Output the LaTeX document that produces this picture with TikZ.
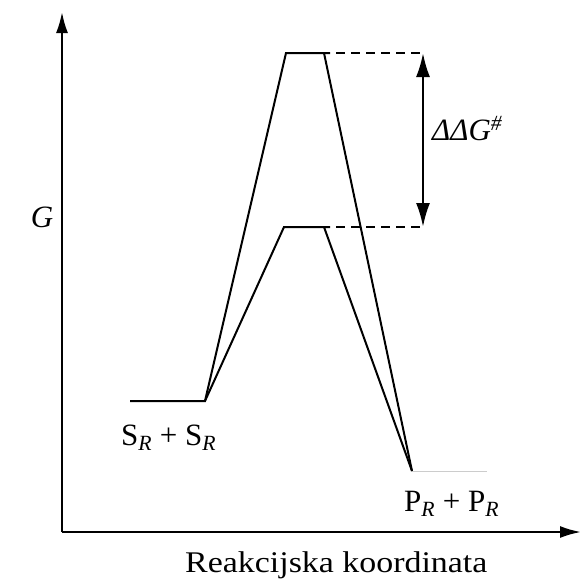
\documentclass[tikz,border=0pt]{standalone}
\usepackage{fontspec}
\setmainfont{Liberation Serif}
\usetikzlibrary{arrows.meta}
\begin{document}
\begin{tikzpicture}[x=1pt,y=-1pt,
  lbl/.style={font=\fontsize{31}{36}\selectfont, inner sep=0pt},
  axis/.style={line width=2.2pt, -{Latex[length=21pt,width=12pt]}},
  path/.style={line width=2pt, line join=miter},
  guide/.style={line width=2pt, dash pattern=on 9pt off 6pt, dash phase=9pt},
  dbl/.style={line width=2.4pt, {Latex[length=24pt,width=14pt]}-{Latex[length=24pt,width=14pt]}}]
\useasboundingbox (0,0) rectangle (581,581);
% coordinates
\coordinate (O) at (62,532);
\coordinate (Ytip) at (62,12);
\coordinate (Xtip) at (581,532);
\coordinate (A) at (130,401);
\coordinate (B) at (205,401);
\coordinate (L1) at (284,227);
\coordinate (L2) at (330,227);
\coordinate (L2s) at (324,227);
\coordinate (U1) at (286,53);
\coordinate (U2) at (330,53);
\coordinate (U2s) at (324,53);
\coordinate (P) at (412,471);
\coordinate (Pend) at (487,471);
\coordinate (D1) at (423,53);
\coordinate (D2) at (423,227);
% axes
\draw[axis] (O) -- (Ytip);
\draw[axis] (O) -- (Xtip);
% profiles
\draw[path] (A) -- (B) -- (U1) -- (U2);
\draw[path] (U2s) -- (P);
\draw[path] (B) -- (L1) -- (L2);
\draw[path] (L2s) -- (P);
\draw[gray!40, line width=1pt] (P) -- (Pend);
% dashed guides
\draw[guide] (U2) -- (D1);
\draw[guide] (L2) -- (D2);
\draw[dbl] (D1) -- (D2);
% labels
\node[lbl, anchor=base west] (ddg) at (432,140) {\textit{ΔΔG}\textsuperscript{\textit{\#}}};
\node[lbl, anchor=base] (g) at (42,227) {\textit{G}};
\node[lbl, anchor=base west] (sr) at (121,445) {S\textsubscript{\textit{R}} + S\textsubscript{\textit{R}}};
\node[lbl, anchor=base west] (pr) at (404,511) {P\textsubscript{\textit{R}} + P\textsubscript{\textit{R}}};
\node[lbl, font=\fontsize{30}{36}\selectfont, anchor=base west, xscale=1.13] (xl) at (185,572) {Reakcijska koordinata};
\end{tikzpicture}
\end{document}
